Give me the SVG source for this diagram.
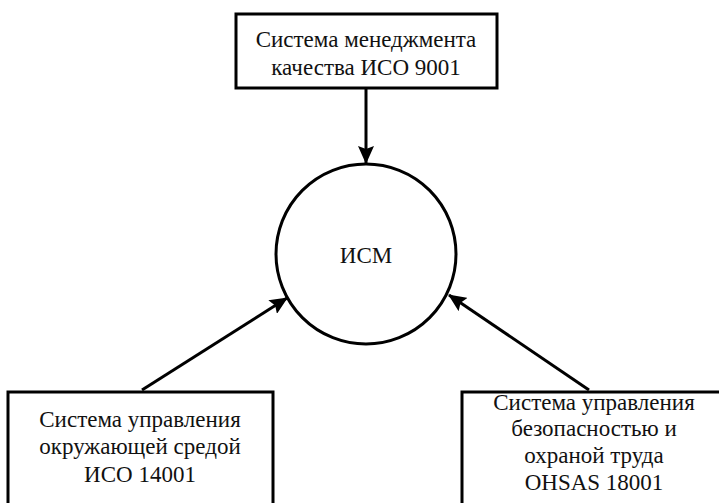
<svg xmlns="http://www.w3.org/2000/svg" width="719" height="503" viewBox="0 0 719 503">
  <style>
    .box { fill: #fff; stroke: #000; stroke-width: 3; }
    .hub { fill: #fff; stroke: #000; stroke-width: 3; }
    .lbl { font-family: 'Liberation Serif', 'Times New Roman', serif; font-size: 23px; fill: #111; text-anchor: middle; }
    .edge { stroke: #000; stroke-width: 3; fill: none; marker-end: url(#arrow); }
  </style>
  <defs>
    <marker id="arrow" markerWidth="18" markerHeight="16" refX="17" refY="8" orient="auto" markerUnits="userSpaceOnUse">
      <path d="M0,0 L18,8 L0,16 L3,8 Z" fill="#000"/>
    </marker>
  </defs>

  <g id="connectors">
    <line class="edge" x1="366" y1="88" x2="366" y2="163"/>
    <line class="edge" x1="142" y1="390" x2="287" y2="298"/>
    <line class="edge" x1="589" y1="390" x2="449" y2="295"/>
  </g>

  <g id="node-qms">
    <rect class="box" x="236" y="14" width="261" height="74"/>
    <text class="lbl" x="366" y="47">Система менеджмента</text>
    <text class="lbl" x="366" y="75">качества ИСО 9001</text>
  </g>

  <g id="node-ism">
    <circle class="hub" cx="366" cy="254" r="90"/>
    <text class="lbl" x="366" y="263">ИСМ</text>
  </g>

  <g id="node-ems">
    <rect class="box" x="8" y="392" width="265" height="120"/>
    <text class="lbl" x="140" y="427">Система управления</text>
    <text class="lbl" x="140" y="454">окружающей средой</text>
    <text class="lbl" x="140" y="482">ИСО 14001</text>
  </g>

  <g id="node-ohs">
    <rect class="box" x="462" y="392" width="270" height="120"/>
    <text class="lbl" x="594" y="410">Система управления</text>
    <text class="lbl" x="594" y="436">безопасностью и</text>
    <text class="lbl" x="594" y="463">охраной труда</text>
    <text class="lbl" x="594" y="490">OHSAS 18001</text>
  </g>
</svg>
